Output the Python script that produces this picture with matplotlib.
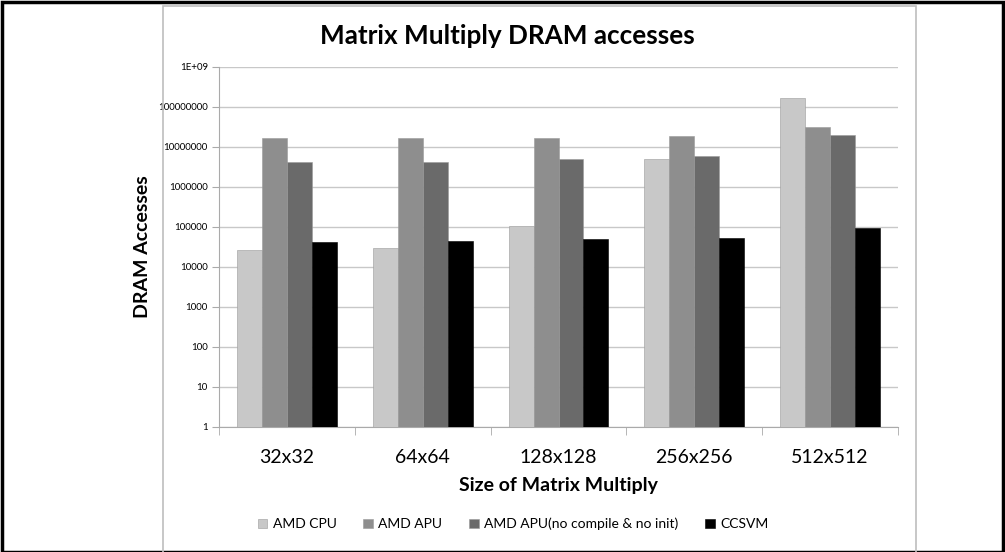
import matplotlib.pyplot as plt
import numpy as np
from matplotlib.patches import Rectangle

plt.rcParams['font.family'] = ['Lato', 'DejaVu Sans']

sizes = ["32x32", "64x64", "128x128", "256x256", "512x512"]
series_names = ["AMD CPU", "AMD APU", "AMD APU(no compile & no init)", "CCSVM"]
amd_cpu = [26600, 30500, 107000, 5100000, 171000000]
amd_apu = [16600000, 16600000, 17000000, 18500000, 32000000]
amd_apu_noinit = [4100000, 4100000, 4900000, 6100000, 20000000]
ccsvm = [42000, 44600, 49000, 54000, 93000]
colors = ["#c8c8c8", "#8e8e8e", "#6a6a6a", "#000000"]

ytick_vals = [1, 10, 100, 1000, 10000, 100000, 1000000, 10000000, 100000000, 1000000000]
ytick_labels = ["1", "10", "100", "1000", "10000", "100000", "1000000",
                "10000000", "100000000", "1E+09"]

fig = plt.figure(figsize=(10.05, 5.52), dpi=100)

# outer black border and inner chart frame
fig.patches.append(Rectangle((0.0015, 0.0), 0.997, 0.996, transform=fig.transFigure,
                             fill=False, edgecolor="black", linewidth=2.5))
fig.patches.append(Rectangle((163 / 1005, -0.01), (916 - 163) / 1005, 1.0, transform=fig.transFigure,
                             fill=False, edgecolor="#bdbdbd", linewidth=1.2))

ax = fig.add_axes([219 / 1005, 1 - 427 / 552, (898 - 219) / 1005, (427 - 67) / 552])

data = [amd_cpu, amd_apu, amd_apu_noinit, ccsvm]
x = np.arange(len(sizes))
w = 0.184
for i, (vals, name, c) in enumerate(zip(data, series_names, colors)):
    ax.bar(x + (i - 1.5) * w, vals, width=w, color=c, label=name,
           edgecolor="#9a9a9a" if i < 3 else "black", linewidth=0.4, zorder=3)

ax.set_yscale("log")
ax.set_ylim(1, 1e9)
ax.set_xlim(-0.5, len(sizes) - 0.5)
ax.set_yticks(ytick_vals)
ax.set_yticklabels(ytick_labels, fontsize=7)
ax.yaxis.set_minor_locator(plt.NullLocator())
ax.grid(axis="y", color="#c8c8c8", linewidth=1, zorder=0)

ax.set_xticks(x)
ax.set_xticklabels(sizes, fontsize=14)
ax.tick_params(axis="x", length=0, pad=16)
ax.set_xticks(np.arange(len(sizes) + 1) - 0.5, minor=True)
ax.tick_params(axis="x", which="minor", length=6, color="#aaaaaa", direction="out")
ax.tick_params(axis="y", length=5, color="#aaaaaa", pad=3)

for s in ["top", "right"]:
    ax.spines[s].set_visible(False)
for s in ["left", "bottom"]:
    ax.spines[s].set_color("#aaaaaa")

ax.set_xlabel("Size of Matrix Multiply", fontsize=14, fontweight="bold", labelpad=8)
ax.set_ylabel("DRAM Accesses", fontsize=14, fontweight="bold", labelpad=5)
fig.text(0.5045, 1 - 36 / 552, "Matrix Multiply DRAM accesses", ha="center", va="center",
         fontsize=18.8, fontweight="bold")

fig.legend(loc="center", bbox_to_anchor=(513 / 1005, 1 - 524 / 552), ncol=4, frameon=False,
           fontsize=10, handlelength=0.7, handleheight=0.7, columnspacing=1.9, handletextpad=0.4)

fig.savefig("out.png", dpi=100)
